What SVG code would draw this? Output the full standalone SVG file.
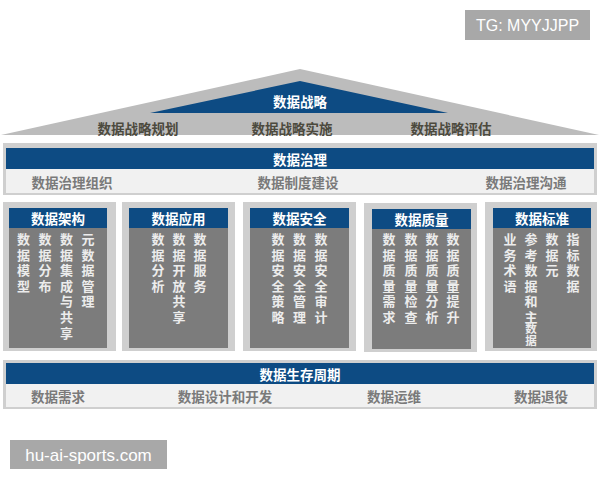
<svg xmlns="http://www.w3.org/2000/svg" width="600" height="480" viewBox="0 0 600 480">
<style>
.zh{font-family:"Noto Sans CJK SC","Noto Sans",sans-serif;font-weight:bold;}
.ttl{font-size:13.5px;fill:#ffffff;text-anchor:middle;dominant-baseline:central;}
.roofsub{font-size:13.5px;fill:#4c4a3e;text-anchor:middle;dominant-baseline:central;}
.sub{font-size:13.5px;fill:#7a7a7a;text-anchor:middle;dominant-baseline:central;}
.col{font-size:13px;fill:#ececec;writing-mode:vertical-rl;letter-spacing:2.6px;text-anchor:start;}
.tail{font-size:11.5px;letter-spacing:0px;}
.blue{fill:#0d4b83;}
.frame{fill:#cfcfcf;}
.light{fill:#f1f1f1;}
.panel{fill:#7c7c7c;}
.wm{fill:#a8a8a8;}
.wmt{font-family:"Liberation Sans",Arial,sans-serif;fill:#ffffff;}
</style>
<rect width="600" height="480" fill="#ffffff"/>

<g id="watermark-tg">
<rect class="wm" x="465" y="10" width="125" height="30"/>
<text class="wmt" x="527.5" y="31" font-size="16" text-anchor="middle">TG: MYYJJPP</text>
</g>

<g id="strategy">
<polygon points="1,135 300,69 599,135" fill="#bcbcbc"/>
<polygon class="blue" points="150,113 300,81 448,113"/>
<text class="zh ttl" x="300" y="101">数据战略</text>
<text class="zh roofsub" x="138" y="128">数据战略规划</text>
<text class="zh roofsub" x="292" y="128">数据战略实施</text>
<text class="zh roofsub" x="451" y="128">数据战略评估</text>
</g>

<g id="governance">
<rect class="frame" x="3" y="143" width="594" height="52"/>
<rect class="light" x="6" y="169" width="588" height="24"/>
<rect class="blue" x="6" y="148" width="588" height="21"/>
<text class="zh ttl" x="300" y="158.5">数据治理</text>
<text class="zh sub" x="72" y="181.5">数据治理组织</text>
<text class="zh sub" x="298" y="181.5">数据制度建设</text>
<text class="zh sub" x="526" y="181.5">数据治理沟通</text>
</g>

<g id="pillar-architecture">
<rect class="frame" x="3" y="202" width="113" height="149"/>
<rect class="panel" x="9" y="208" width="98" height="140"/>
<rect class="blue" x="9" y="208" width="98" height="20"/>
<text class="zh ttl" x="58" y="218">数据架构</text>
<text class="zh col" x="23.5" y="232.5">数据模型</text>
<text class="zh col" x="45" y="232.5">数据分布</text>
<text class="zh col" x="66.5" y="232.5">数据集成与共享</text>
<text class="zh col" x="88" y="232.5">元数据管理</text>
</g>

<g id="pillar-application">
<rect class="frame" x="122" y="202" width="113" height="149"/>
<rect class="panel" x="129" y="208" width="99" height="140"/>
<rect class="blue" x="129" y="208" width="99" height="20"/>
<text class="zh ttl" x="178.5" y="218">数据应用</text>
<text class="zh col" x="158" y="232.5">数据分析</text>
<text class="zh col" x="179" y="232.5">数据开放共享</text>
<text class="zh col" x="200" y="232.5">数据服务</text>
</g>

<g id="pillar-security">
<rect class="frame" x="243" y="202" width="113" height="149"/>
<rect class="panel" x="250" y="208" width="99" height="140"/>
<rect class="blue" x="250" y="208" width="99" height="20"/>
<text class="zh ttl" x="299.5" y="218">数据安全</text>
<text class="zh col" x="278" y="232.5">数据安全策略</text>
<text class="zh col" x="299.5" y="232.5">数据安全管理</text>
<text class="zh col" x="321" y="232.5">数据安全审计</text>
</g>

<g id="pillar-quality">
<rect class="frame" x="364" y="203" width="113" height="149"/>
<rect class="panel" x="372" y="209" width="99" height="140"/>
<rect class="blue" x="372" y="209" width="99" height="20"/>
<text class="zh ttl" x="421.5" y="219">数据质量</text>
<text class="zh col" x="389" y="232.5">数据质量需求</text>
<text class="zh col" x="411" y="232.5">数据质量检查</text>
<text class="zh col" x="432" y="232.5">数据质量分析</text>
<text class="zh col" x="453" y="232.5">数据质量提升</text>
</g>

<g id="pillar-standard">
<rect class="frame" x="485" y="202" width="112" height="149"/>
<rect class="panel" x="493" y="208" width="98" height="140"/>
<rect class="blue" x="493" y="208" width="98" height="20"/>
<text class="zh ttl" x="542" y="218">数据标准</text>
<text class="zh col" x="510" y="232.5">业务术语</text>
<text class="zh col" x="531" y="232.5">参考数据和主</text>
<text class="zh col tail" x="531" y="323">数据</text>
<text class="zh col" x="552" y="232.5">数据元</text>
<text class="zh col" x="573" y="232.5">指标数据</text>
</g>

<g id="lifecycle">
<rect class="frame" x="3" y="360" width="594" height="49"/>
<rect class="light" x="6" y="384" width="588" height="23"/>
<rect class="blue" x="6" y="363" width="588" height="21"/>
<text class="zh ttl" x="300" y="374">数据生存周期</text>
<text class="zh sub" x="58" y="396">数据需求</text>
<text class="zh sub" x="225" y="396">数据设计和开发</text>
<text class="zh sub" x="394" y="396">数据运维</text>
<text class="zh sub" x="541" y="396">数据退役</text>
</g>

<g id="watermark-site">
<rect class="wm" x="10" y="440" width="157" height="29"/>
<text class="wmt" x="88.5" y="461" font-size="17" text-anchor="middle">hu-ai-sports.com</text>
</g>
</svg>
